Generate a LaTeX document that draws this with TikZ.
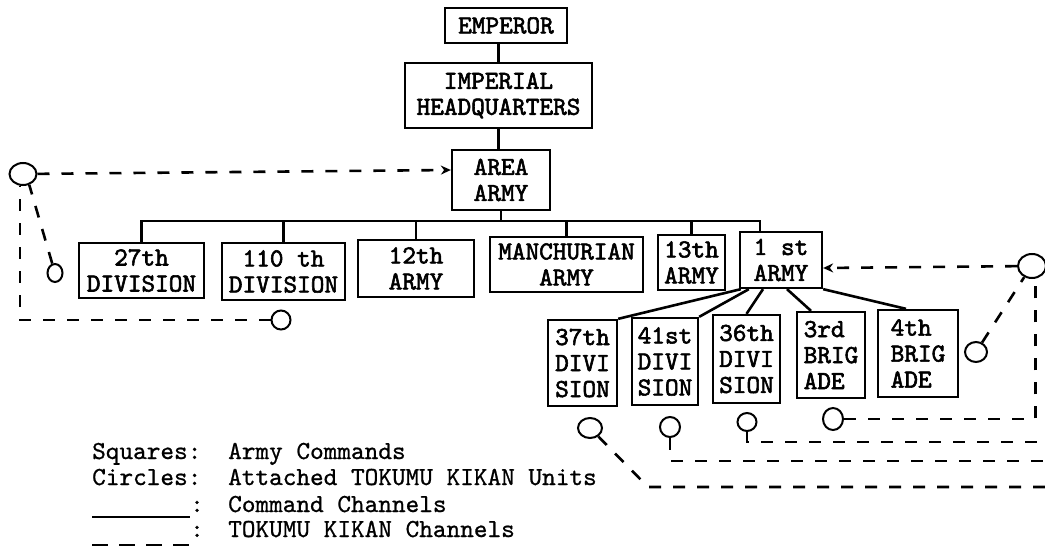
\documentclass[tikz,border=0pt]{standalone}
\usepackage{fontspec}
\newfontfamily\typeb{lmmono10-regular.otf}[AutoFakeBold=2.2]
\newfontfamily\typel{lmmono10-regular.otf}[AutoFakeBold=0.8]
\usepackage{tikz}
\usetikzlibrary{arrows.meta}
\usetikzlibrary{shapes.geometric, positioning}

\begin{document}
\begin{tikzpicture}[
      >={Stealth[length=10pt, width=9pt]},
      x=1pt, y=-1pt,
      cmd/.style={draw, line width=2.3pt, align=center, inner sep=0pt,
        font=\typeb\bfseries\fontsize{26}{26}\selectfont},
      unit/.style={draw, ellipse, line width=2pt, inner sep=0pt},
      lnk/.style={line width=2.6pt},
      tk/.style={line width=2.6pt, dash pattern=on 12pt off 12pt},
      lgd/.style={font=\typel\bfseries\fontsize{26}{26}\selectfont, anchor=base west, inner sep=0pt}
    ]
    \fill[white] (0,0) rectangle (1045,546);
    \useasboundingbox (0,0) rectangle (1045,546);

    % Top of the chain
    \node[cmd, minimum width=122pt, minimum height=35pt] (emperor) at (506,25.5) {EMPEROR};
    \node[cmd, minimum width=187pt, minimum height=65pt] (ihq) at (498.5,95.5) {IMPERIAL\\HEADQUARTERS};
    \node[cmd, minimum width=98pt, minimum height=60pt] (area) at (501,180) {AREA\\ARMY};

    % Second row
    \node[cmd, minimum width=125pt, minimum height=55pt] (d27) at (141.5,270.5) {27th\\DIVISION};
    \node[cmd, minimum width=123pt, minimum height=57pt] (d110) at (283.5,271.5) {110 th\\DIVISION};
    \node[cmd, minimum width=116pt, minimum height=57pt] (a12) at (416,268.5) {12th\\ARMY};
    \node[cmd, minimum width=153pt, minimum height=55pt] (manch) at (566.5,264.5) {MANCHURIAN\\ARMY};
    \node[cmd, minimum width=67pt, minimum height=55pt] (a13) at (691.5,262.5) {13th\\ARMY};
    \node[cmd, minimum width=82pt, minimum height=56pt] (a1) at (781,260) {1 st\\ARMY};

    % Under the 1st Army
    \node[cmd, minimum width=69pt, minimum height=86pt] (d37) at (582.5,363) {37th\\DIVI\\SION};
    \node[cmd, minimum width=66pt, minimum height=87pt] (d41) at (665,361.5) {41st\\DIVI\\SION};
    \node[cmd, minimum width=67pt, minimum height=88pt] (d36) at (746.5,359) {36th\\DIVI\\SION};
    \node[cmd, minimum width=68pt, minimum height=86pt, align=left] (b3) at (831,355) {3rd\\BRIG\\ADE};
    \node[cmd, minimum width=80pt, minimum height=87pt, align=left] (b4) at (918,353.5) {4th\\BRIG\\ADE};

    % Tokumu Kikan units
    \node[unit, minimum width=27pt, minimum height=22pt] (bigL) at (23,174) {};
    \node[unit, minimum width=28pt, minimum height=24pt] (bigR) at (1032,266) {};
    \node[unit, minimum width=15pt, minimum height=18pt] (c27) at (55,273) {};
    \node[unit, minimum width=19pt, minimum height=19pt] (c110) at (281,320) {};
    \node[unit, minimum width=24pt, minimum height=20pt] (c37) at (590,428) {};
    \node[unit, minimum width=20pt, minimum height=20pt] (c41) at (670,427) {};
    \node[unit, minimum width=19pt, minimum height=18pt] (c36) at (747,422) {};
    \node[unit, minimum width=20pt, minimum height=22pt] (c3) at (833,419) {};
    \node[unit, minimum width=22pt, minimum height=20pt] (c4) at (976,352) {};

    % Command channels
    \coordinate (bus) at (0,221);
    \draw[lnk] (ihq.north) -- (ihq.north |- emperor.south);
    \draw[lnk] (ihq.south) -- (ihq.south |- area.north);
    \draw[lnk] (area.south) -- (area.south |- bus);
    \draw[lnk] (d27.north) |- ([xshift=-21pt]a1.north |- bus) -- ([xshift=-21pt]a1.north);
    \foreach \n in {d110, a12, manch, a13}
      \draw[lnk] (\n.north) -- (\n.north |- bus);
    \draw[lnk] ([xshift=2pt]a1.south west) -- (d37.north east);
    \draw[lnk] ([xshift=10pt]a1.south west) -- (d41.north east);
    \draw[lnk] ([xshift=-18pt]a1.south) -- (d36.north);
    \draw[lnk] ([xshift=6pt]a1.south) -- ([xshift=-20pt]b3.north);
    \draw[lnk] (a1.south east) -- ([xshift=-12pt]b4.north);

    % Tokumu Kikan channels
    \coordinate (k37) at (648,487);
    \coordinate (e2) at (1046,442);
    \coordinate (e3) at (1046,461);
    \coordinate (e4) at (1046,487);
    \draw[tk, ->] (bigL) -- ([yshift=10pt]area.west);
    \draw[tk] (c110) -| (bigL.255);
    \draw[tk] (c27) -- (bigL.-60);
    \draw[tk, ->] (bigR) -- ([yshift=-8pt]a1.east);
    \draw[tk] (c4) -- (bigR.235);
    \draw[tk] (c3) -| (bigR.-75);
    \draw[tk] (c36) |- (e2);
    \draw[tk] (c41) |- (e3);
    \draw[tk] (c37) -- (k37) -- (e4);

    % Legend
    \node[lgd] (sqkey) at (92,459) {Squares:};
    \node[lgd] (sqtext) at (228,459) {Army Commands};
    \node[lgd] (cikey) at (92,485) {Circles:};
    \node[lgd] (citext) at (228,485) {Attached TOKUMU KIKAN Units};
    \node[lgd] (cmkey) at (190,512) {:};
    \node[lgd] (cmtext) at (228,512) {Command Channels};
    \node[lgd] (tkkey) at (190,537) {:};
    \node[lgd] (tktext) at (228,537) {TOKUMU KIKAN Channels};
    \draw[line width=1.8pt] (92,517) -- (190,517);
    \draw[line width=2.6pt, dash pattern=on 16pt off 11pt] (92,545) -- (190,545);
  \end{tikzpicture}
\end{document}
